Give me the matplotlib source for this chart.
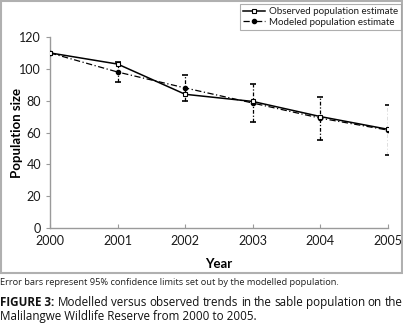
import matplotlib
matplotlib.use("Agg")
import matplotlib.pyplot as plt
from matplotlib.patches import Rectangle

years = [2000, 2001, 2002, 2003, 2004, 2005]
observed = [110, 103, 84, 79.5, 70, 62]
modeled = [110, 98, 88, 78.5, 69, 61.5]
err_low = [0, 6, 8, 12, 13.5, 15.5]
err_high = [0, 6, 8, 12, 13.5, 15.5]
y_ticks = [0, 20, 40, 60, 80, 100, 120]

W, H = 403, 328
fig = plt.figure(figsize=(W / 100, H / 100), dpi=100)
fig.patch.set_facecolor("white")

def px(x0, y0, x1, y1):
    return [x0 / W, 1 - y1 / H, (x1 - x0) / W, (y1 - y0) / H]

ax = fig.add_axes(px(50, 37, 388, 228))
ax.set_xlim(2000, 2005)
ax.set_ylim(0, 120)

gray = "#9a9a9a"
for s in ["top", "right"]:
    ax.spines[s].set_visible(False)
for s in ["left", "bottom"]:
    ax.spines[s].set_color(gray)
    ax.spines[s].set_linewidth(1.0)

ax.set_yticks(y_ticks)
ax.set_xticks(years)
ax.tick_params(axis="both", colors=gray, labelcolor="#1a1a1a", labelsize=9, length=3, width=0.8)
ax.tick_params(axis="x", direction="in", pad=5)
for lab in ax.get_xticklabels() + ax.get_yticklabels():
    lab.set_family("Lato")

eb = ax.errorbar(years, modeled, yerr=[err_low, err_high], fmt="none", ecolor="black",
                 elinewidth=0.9, capsize=2.5, capthick=1.2, zorder=2)
eb.lines[2][0].set_linestyle((0, (3, 1.5, 1, 1.5)))
ax.plot(years, modeled, color="black", lw=0.9, linestyle=(0, (5, 2, 1, 2)),
        marker="o", markersize=3, markerfacecolor="black", zorder=3,
        label="Modeled population estimate")
ax.plot(years, observed, color="black", lw=1.1, linestyle="-",
        marker="s", markersize=3.2, markerfacecolor="white", markeredgewidth=0.8, zorder=4,
        label="Observed population estimate")

ax.set_ylabel("Population size", fontsize=9.5, fontweight="bold", family="Lato")
ax.yaxis.set_label_coords(-27 / 338, 0.5)
ax.set_xlabel("Year", fontsize=9.5, fontweight="bold", family="Lato", labelpad=8)

h, l = ax.get_legend_handles_labels()
leg = fig.legend([h[1], h[0]], [l[1], l[0]], loc="upper left",
                 bbox_to_anchor=(240 / W, 1 - 4 / H), frameon=True, fancybox=False,
                 prop={"family": "Lato", "size": 7}, handlelength=2.3, handletextpad=0.4,
                 borderpad=0.3, labelspacing=0.2, borderaxespad=0)
leg.get_frame().set_edgecolor(gray)
leg.get_frame().set_linewidth(0.8)
for t in leg.get_texts():
    t.set_color("#1a1a1a")

# outer frame
fig.patches.append(Rectangle((1 / W, 1 - 273 / H), 400.5 / W, 272 / H, transform=fig.transFigure,
                             fill=False, edgecolor="#b0b0b0", linewidth=1.5))

fig.text(0.5 / W, 1 - 285 / H, "Error bars represent 95% confidence limits set out by the modelled population.",
         fontsize=6.7, family="Open Sans", va="baseline", ha="left", color="#222222")

# justified caption line
renderer = fig.canvas.get_renderer()
words = ["FIGURE 3:", "Modelled", "versus", "observed", "trends", "in", "the", "sable",
         "population", "on", "the"]
texts = []
for i, w in enumerate(words):
    t = fig.text(0, 1 - 306 / H, w, fontsize=8.4, family="Open Sans", va="baseline", ha="left",
                 color="#111111", fontweight="bold" if i == 0 else "normal")
    texts.append(t)
widths = [t.get_window_extent(renderer).width for t in texts]
gap = (402 - sum(widths)) / (len(words) - 1)
x = 0.5
for t, wd in zip(texts, widths):
    t.set_x(x / W)
    x += wd + gap

fig.text(0.5 / W, 1 - 320 / H, "Malilangwe Wildlife Reserve from 2000 to 2005.",
         fontsize=8.4, family="Open Sans", va="baseline", ha="left", color="#111111")

fig.savefig("out.png", dpi=100)
